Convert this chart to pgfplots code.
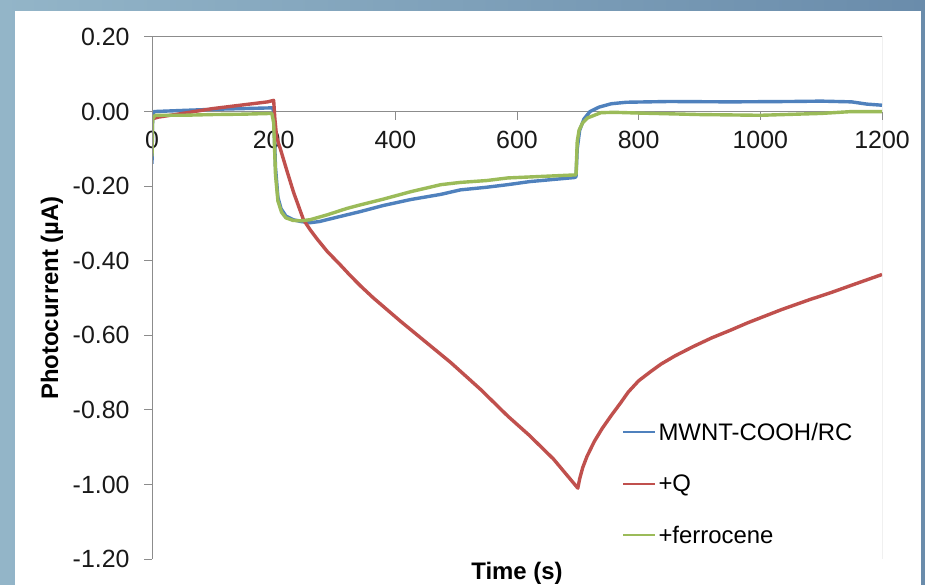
\documentclass[border=0pt]{standalone}
\usepackage{fontspec}
\setmainfont{Liberation Sans}
\usepackage{pgfplots}
\usepackage{pgfplotstable}
\pgfplotsset{compat=1.18}

\definecolor{bgL}{HTML}{93B5C8}
\definecolor{bgR}{HTML}{6A8CAB}
\definecolor{xlblue}{HTML}{4F81BD}
\definecolor{xlred}{HTML}{C0504D}
\definecolor{xlgreen}{HTML}{9BBB59}
\definecolor{axgray}{HTML}{8C8C8C}

% MWNT-COOH/RC
\pgfplotstableread{
t i
0 -0.14
1 -0.02
3 0.0
50 0.003
100 0.006
150 0.008
198 0.010
200 0.0
203 -0.15
207 -0.23
212 -0.26
220 -0.28
232 -0.29
245 -0.295
260 -0.298
275 -0.295
300 -0.285
343 -0.268
380 -0.252
425 -0.236
475 -0.222
507 -0.210
550 -0.203
585 -0.196
620 -0.188
660 -0.182
694 -0.177
697 -0.175
699 -0.10
703 -0.05
710 -0.02
720 0.0
735 0.012
755 0.021
780 0.025
850 0.027
950 0.026
1050 0.027
1100 0.028
1150 0.026
1175 0.020
1200 0.017
}\bluedata

% +Q
\pgfplotstableread{
t i
0 -0.02
10 -0.015
50 -0.005
100 0.008
150 0.018
190 0.026
200 0.030
202 -0.02
205 -0.07
211 -0.10
222 -0.16
233 -0.218
249 -0.29
260 -0.317
272 -0.343
288 -0.375
310 -0.412
326 -0.440
343 -0.468
364 -0.500
409 -0.563
450 -0.618
491 -0.673
540 -0.745
585 -0.817
620 -0.868
660 -0.932
700 -1.010
703 -0.985
708 -0.955
715 -0.925
727 -0.885
740 -0.850
755 -0.815
770 -0.782
783 -0.752
800 -0.722
820 -0.697
837 -0.677
860 -0.655
890 -0.630
920 -0.607
950 -0.587
980 -0.566
1035 -0.531
1080 -0.505
1117 -0.485
1160 -0.460
1200 -0.437
}\reddata

% +ferrocene
\pgfplotstableread{
t i
0 -0.12
1 -0.02
5 -0.01
50 -0.010
100 -0.008
150 -0.007
197 -0.005
200 -0.03
203 -0.17
207 -0.24
213 -0.27
220 -0.285
232 -0.292
245 -0.293
260 -0.290
288 -0.277
320 -0.260
343 -0.250
380 -0.235
425 -0.215
475 -0.196
507 -0.190
550 -0.185
585 -0.178
640 -0.174
694 -0.170
697 -0.170
699 -0.08
702 -0.05
708 -0.03
716 -0.017
738 -0.003
760 -0.002
800 -0.004
900 -0.008
1000 -0.010
1100 -0.005
1150 0.0
1200 0.0
}\greendata

\begin{document}
\begin{tikzpicture}
\useasboundingbox (0bp,0bp) rectangle (925bp,585bp);
\shade[left color=bgL, right color=bgR] (0bp,0bp) rectangle (925bp,585bp);
\fill[white] (15bp,0bp) rectangle (921bp,574bp);
\begin{axis}[
  at={(152bp,26bp)}, anchor=south west,
  scale only axis,
  width=730bp, height=522bp,
  xmin=0, xmax=1200,
  ymin=-1.2, ymax=0.2,
  axis x line*=middle,
  axis y line*=left,
  axis line style={axgray, line width=1bp},
  xtick={0,200,400,600,800,1000,1200},
  ytick={-1.2,-1,-0.8,-0.6,-0.4,-0.2,0,0.2},
  tick align=outside,
  major tick length=8bp,
  tick style={axgray, line width=1bp},
  hide obscured x ticks=false,
  tick label style={font=\fontsize{25}{29}\selectfont, text=black!90},
  xticklabel style={yshift=-8bp, /pgf/number format/.cd, 1000 sep={}, assume math mode=true},
  yticklabel style={xshift=-11bp, /pgf/number format/.cd, fixed, fixed zerofill, precision=2, assume math mode=true},
  xlabel={Time (s)},
  ylabel={Photocurrent (\textmu A)},
  label style={font=\bfseries\fontsize{24}{28}\selectfont, inner sep=0pt},
  xlabel style={at={(axis description cs:0.5,0)}, anchor=north, yshift=-3bp},
  ylabel style={at={(axis description cs:-0.137,0.5)}, anchor=center},
  legend style={draw=none, fill=none, font=\fontsize{24}{28}\selectfont,
    at={(rel axis cs:0.644,0.265)}, anchor=north west, row sep=29bp, inner sep=0pt},
  legend cell align=left,
  legend image code/.code={\draw[#1, line width=2.2bp] (0bp,0bp) -- (32bp,0bp);},
  every axis plot/.append style={line width=3.4bp, line join=round},
]
\addplot[xlblue] table[x=t, y=i] {\bluedata};
\addplot[xlred] table[x=t, y=i] {\reddata};
\addplot[xlgreen] table[x=t, y=i] {\greendata};
\legend{MWNT-COOH/RC, +Q, +ferrocene}
\draw[axgray, line width=1bp] (rel axis cs:0,0) rectangle (rel axis cs:1,1);
\end{axis}
\end{tikzpicture}
\end{document}
